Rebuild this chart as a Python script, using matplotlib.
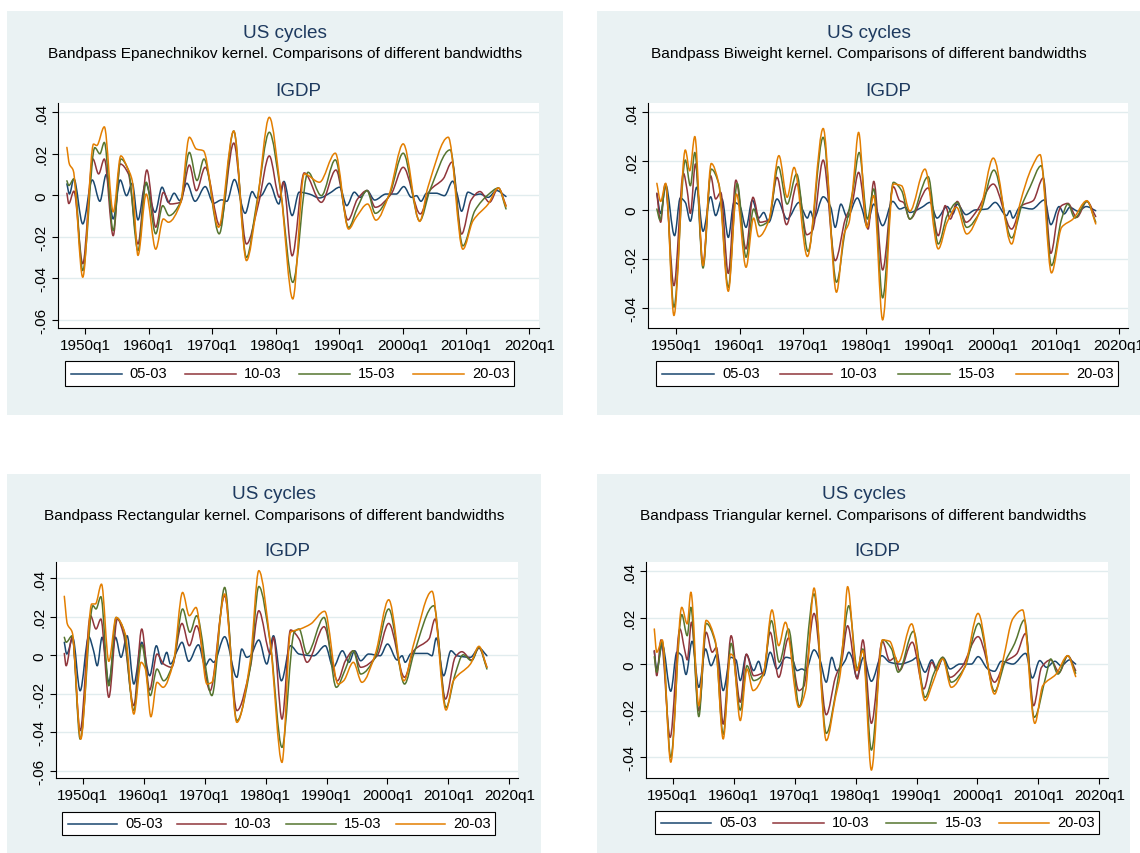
"""Four-panel bandpass kernel comparison of US IGDP cycles (Stata s2color look)."""

import matplotlib

matplotlib.use("Agg")

import matplotlib.pyplot as plt
from matplotlib.lines import Line2D
from matplotlib.patches import PathPatch, Rectangle
from matplotlib.path import Path

# ---------------------------------------------------------------- data
SERIES_LABELS = ["05-03", "10-03", "15-03", "20-03"]
X_TICKS = [1950, 1960, 1970, 1980, 1990, 2000, 2010, 2020]
X_TICK_LABELS = ["1950q1", "1960q1", "1970q1", "1980q1", "1990q1", "2000q1", "2010q1", "2020q1"]
Y_TICKS_WIDE = [-0.06, -0.04, -0.02, 0.0, 0.02, 0.04]
Y_TICK_LABELS_WIDE = ["-.06", "-.04", "-.02", "0", ".02", ".04"]
Y_TICKS_NARROW = [-0.04, -0.02, 0.0, 0.02, 0.04]
Y_TICK_LABELS_NARROW = ["-.04", "-.02", "0", ".02", ".04"]
KERNELS = ["Epanechnikov", "Biweight", "Rectangular", "Triangular"]

# (year, cycle) turning points
EPAN_05 = [(1947.1, 0.0055), (1947.5, 0.0006), (1948.2, 0.0079), (1949.6, -0.0138), (1951.1, 0.0074),
           (1952.3, -0.0029), (1953.3, 0.0100), (1954.4, -0.0114), (1955.5, 0.0074), (1956.5, -0.0002),
           (1957.4, 0.0058), (1958.3, -0.0119), (1959.5, 0.0058), (1961.0, -0.0082), (1962.1, 0.0039),
           (1963.1, -0.0034), (1964.0, 0.0010), (1964.9, -0.0026), (1966.0, 0.0058), (1967.3, -0.0029),
           (1968.9, 0.0042), (1970.2, -0.0039), (1971.5, -0.0022), (1972.3, -0.0029), (1973.5, 0.0076),
           (1975.2, -0.0087), (1976.3, 0.0018), (1977.0, -0.0013), (1977.8, 0.0000), (1979.0, 0.0058),
           (1980.5, -0.0042), (1981.3, 0.0067), (1982.6, -0.0098), (1983.7, 0.0015), (1985.3, 0.0006),
           (1986.9, -0.0013), (1988.5, 0.0010), (1990.1, 0.0039), (1991.2, -0.0050), (1992.4, 0.0015),
           (1993.3, -0.0010), (1994.4, 0.0023), (1995.6, -0.0023), (1997.4, 0.0006), (1999.0, 0.0006),
           (2000.2, 0.0042), (2001.4, -0.0010), (2002.2, -0.0002), (2002.9, -0.0029), (2003.8, 0.0010),
           (2005.3, 0.0010), (2006.6, -0.0002), (2007.9, 0.0068), (2008.6, 0.0006), (2009.3, -0.0077),
           (2010.3, 0.0015), (2011.4, 0.0002), (2012.2, 0.0006), (2013.5, -0.0010), (2014.8, 0.0023),
           (2016.3, -0.0006)]
EPAN_10 = [(1947.1, 0.0010), (1947.4, -0.0040), (1948.2, 0.0020), (1949.6, -0.0330), (1951.2, 0.0175),
           (1952.1, 0.0103), (1953.0, 0.0175), (1954.4, -0.0195), (1955.5, 0.0151), (1956.8, 0.0103),
           (1958.3, -0.0235), (1959.7, 0.0122), (1961.1, -0.0154), (1962.3, 0.0014), (1963.4, -0.0042),
           (1965.0, -0.0034), (1966.4, 0.0146), (1967.5, 0.0022), (1968.9, 0.0135), (1971.2, -0.0146),
           (1973.4, 0.0252), (1975.4, -0.0235), (1977.3, -0.0040), (1979.0, 0.0190), (1980.6, -0.0010),
           (1981.2, 0.0063), (1982.6, -0.0292), (1984.5, 0.0108), (1987.2, -0.0034), (1989.5, 0.0122),
           (1991.4, -0.0119), (1992.9, -0.0018), (1994.4, 0.0023), (1995.7, -0.0058), (1998.2, 0.0006),
           (2000.1, 0.0135), (2002.8, -0.0090), (2004.3, 0.0023), (2006.4, 0.0079), (2007.8, 0.0160),
           (2009.3, -0.0187), (2010.8, -0.0023), (2012.2, 0.0018), (2013.7, -0.0034), (2015.1, 0.0035),
           (2016.3, -0.0050)]
EPAN_15 = [(1947.1, 0.0070), (1947.4, 0.0047), (1948.2, 0.0079), (1949.6, -0.0363), (1951.5, 0.0230),
           (1952.3, 0.0200), (1953.0, 0.0255), (1954.4, -0.0170), (1955.6, 0.0175), (1956.8, 0.0120),
           (1958.3, -0.0267), (1959.6, 0.0063), (1961.1, -0.0186), (1962.2, -0.0050), (1963.2, -0.0098),
           (1965.0, -0.0034), (1966.4, 0.0207), (1967.6, 0.0071), (1968.7, 0.0175), (1971.1, -0.0186),
           (1973.4, 0.0310), (1975.4, -0.0300), (1977.0, -0.0040), (1979.0, 0.0304), (1980.8, 0.0015),
           (1982.7, -0.0420), (1985.1, 0.0111), (1987.2, -0.0002), (1989.4, 0.0171), (1991.5, -0.0155),
           (1992.9, -0.0058), (1994.4, 0.0023), (1995.7, -0.0087), (1997.9, 0.0000), (2000.1, 0.0203),
           (2002.7, -0.0123), (2004.3, 0.0023), (2007.5, 0.0219), (2009.5, -0.0244), (2011.4, -0.0074),
           (2013.5, 0.0003), (2015.1, 0.0035), (2016.3, -0.0066)]
EPAN_20 = [(1947.1, 0.0231), (1947.5, 0.0150), (1948.1, 0.0120), (1949.6, -0.0395), (1951.3, 0.0247),
           (1951.8, 0.0240), (1953.0, 0.0330), (1954.4, -0.0080), (1955.6, 0.0190), (1956.6, 0.0135),
           (1957.4, 0.0070), (1958.3, -0.0290), (1959.6, 0.0006), (1961.1, -0.0260), (1962.3, -0.0114),
           (1963.1, -0.0130), (1965.0, -0.0040), (1966.4, 0.0280), (1967.5, 0.0223), (1968.6, 0.0215),
           (1971.0, -0.0154), (1973.4, 0.0310), (1975.4, -0.0315), (1977.0, -0.0058), (1979.0, 0.0376),
           (1980.8, 0.0022), (1982.7, -0.0500), (1984.5, 0.0103), (1986.9, 0.0063), (1989.4, 0.0203),
           (1991.5, -0.0163), (1992.7, -0.0106), (1994.5, -0.0042), (1995.8, -0.0120), (1997.9, 0.0006),
           (2000.1, 0.0248), (2002.7, -0.0126), (2004.0, 0.0039), (2007.2, 0.0280), (2009.5, -0.0260),
           (2011.1, -0.0123), (2013.5, -0.0042), (2015.1, 0.0035), (2016.3, -0.0055)]

BIW_05 = [(1946.9, 0.0068), (1947.5, -0.0014), (1948.3, 0.0103), (1949.7, -0.0105), (1950.6, 0.0049),
          (1951.4, 0.0031), (1952.2, -0.0046), (1953.2, 0.0093), (1954.2, -0.0087), (1955.4, 0.0054),
          (1956.2, -0.0023), (1957.2, 0.0045), (1958.2, -0.0112), (1959.1, 0.0031), (1960.0, 0.0018),
          (1961.0, -0.0071), (1962.0, 0.0041), (1963.0, -0.0033), (1963.8, -0.0010), (1964.6, -0.0050),
          (1965.9, 0.0045), (1967.5, -0.0037), (1969.4, 0.0031), (1969.9, 0.0004), (1970.7, -0.0033),
          (1971.2, -0.0005), (1971.7, -0.0037), (1973.2, 0.0054), (1974.4, 0.0011), (1975.1, -0.0071),
          (1976.0, 0.0024), (1977.0, -0.0030), (1978.6, 0.0049), (1979.4, 0.0000), (1980.1, -0.0064),
          (1981.2, 0.0024), (1982.6, -0.0064), (1984.2, 0.0035), (1985.3, 0.0004), (1986.2, 0.0011),
          (1986.9, -0.0010), (1988.8, 0.0011), (1990.1, 0.0031), (1991.2, -0.0033), (1992.8, 0.0014),
          (1993.7, -0.0016), (1994.4, 0.0024), (1995.8, -0.0019), (1997.2, 0.0000), (1999.1, 0.0004),
          (2000.4, 0.0031), (2002.2, -0.0023), (2002.7, -0.0003), (2003.2, -0.0033), (2004.3, 0.0011),
          (2006.2, 0.0004), (2008.2, 0.0041), (2009.2, -0.0060), (2010.5, 0.0014), (2011.3, -0.0016),
          (2012.2, 0.0011), (2013.5, -0.0005), (2014.8, 0.0014), (2016.3, -0.0003)]
BIW_10 = [(1946.9, 0.0068), (1947.5, -0.0050), (1948.2, 0.0106), (1949.6, -0.0309), (1951.1, 0.0150),
          (1951.7, 0.0079), (1952.2, -0.0014), (1953.0, 0.0188), (1954.2, -0.0220), (1955.4, 0.0140),
          (1956.2, 0.0045), (1957.0, 0.0072), (1958.2, -0.0259), (1959.4, 0.0122), (1961.0, -0.0159),
          (1962.1, 0.0052), (1963.2, -0.0050), (1964.6, -0.0041), (1965.9, 0.0133), (1967.4, -0.0060),
          (1969.1, 0.0109), (1970.6, -0.0101), (1971.5, -0.0084), (1973.2, 0.0204), (1975.1, -0.0207),
          (1976.7, -0.0037), (1977.8, 0.0030), (1978.8, 0.0154), (1980.3, -0.0078), (1981.2, 0.0117),
          (1982.6, -0.0245), (1984.3, 0.0095), (1985.3, 0.0038), (1985.9, 0.0031), (1986.9, -0.0037),
          (1989.8, 0.0090), (1991.4, -0.0105), (1992.5, 0.0018), (1993.3, -0.0037), (1994.4, 0.0035),
          (1995.8, -0.0050), (1997.5, -0.0003), (2000.1, 0.0106), (2003.0, -0.0078), (2004.6, 0.0018),
          (2006.4, 0.0038), (2008.0, 0.0131), (2009.2, -0.0177), (2010.4, -0.0010), (2010.9, 0.0018),
          (2011.9, 0.0027), (2013.3, -0.0030), (2014.9, 0.0035), (2016.3, -0.0027)]
BIW_15 = [(1946.9, 0.0004), (1947.4, -0.0041), (1948.3, 0.0103), (1949.6, -0.0397), (1951.4, 0.0204),
          (1952.2, 0.0099), (1952.9, 0.0235), (1954.2, -0.0237), (1955.5, 0.0167), (1956.7, 0.0106),
          (1958.2, -0.0316), (1959.6, 0.0109), (1961.0, -0.0193), (1962.2, 0.0004), (1963.2, -0.0064),
          (1964.6, -0.0044), (1966.1, 0.0177), (1967.5, 0.0024), (1969.0, 0.0147), (1970.8, -0.0169),
          (1973.2, 0.0297), (1975.3, -0.0295), (1976.7, -0.0078), (1977.9, 0.0080), (1978.9, 0.0235),
          (1980.2, -0.0037), (1981.2, 0.0086), (1982.6, -0.0359), (1984.3, 0.0113), (1985.6, 0.0079),
          (1986.9, -0.0037), (1989.8, 0.0136), (1991.4, -0.0139), (1992.8, -0.0023), (1994.4, 0.0031),
          (1995.9, -0.0071), (1998.1, -0.0003), (2000.2, 0.0163), (2003.0, -0.0114), (2004.6, 0.0018),
          (2005.9, 0.0093), (2007.7, 0.0181), (2009.3, -0.0227), (2010.9, -0.0037), (2011.9, 0.0024),
          (2013.0, -0.0033), (2014.9, 0.0035), (2016.3, -0.0050)]
BIW_20 = [(1946.9, 0.0109), (1947.5, 0.0035), (1948.3, 0.0109), (1949.6, -0.0431), (1951.4, 0.0245),
          (1952.1, 0.0160), (1952.9, 0.0300), (1954.2, -0.0227), (1955.5, 0.0190), (1956.7, 0.0106),
          (1958.2, -0.0332), (1959.5, 0.0065), (1961.0, -0.0234), (1962.2, -0.0033), (1963.0, -0.0109),
          (1964.6, -0.0044), (1966.2, 0.0222), (1967.5, 0.0052), (1968.6, 0.0174), (1970.7, -0.0190),
          (1973.2, 0.0333), (1975.3, -0.0336), (1976.5, -0.0098), (1977.3, -0.0050), (1978.0, 0.0120),
          (1978.8, 0.0317), (1980.1, -0.0071), (1981.2, 0.0059), (1982.6, -0.0449), (1984.3, 0.0106),
          (1985.6, 0.0099), (1986.9, -0.0005), (1989.3, 0.0167), (1991.4, -0.0159), (1992.8, -0.0050),
          (1994.3, 0.0011), (1995.9, -0.0098), (1998.0, -0.0003), (2000.1, 0.0212), (2003.0, -0.0139),
          (2004.3, 0.0024), (2006.2, 0.0174), (2007.5, 0.0226), (2009.3, -0.0257), (2010.9, -0.0071),
          (2012.7, -0.0037), (2014.9, 0.0038), (2016.3, -0.0057)]

RECT_05 = [(1947.0, 0.0068), (1947.4, 0.0007), (1948.4, 0.0090), (1949.6, -0.0184), (1951.0, 0.0097),
           (1951.8, 0.0024), (1952.4, -0.0054), (1953.2, 0.0094), (1954.3, -0.0140), (1955.4, 0.0094),
           (1956.3, -0.0010), (1957.3, 0.0102), (1958.4, -0.0149), (1959.7, 0.0068), (1961.0, -0.0106),
           (1962.1, 0.0050), (1963.0, -0.0045), (1963.8, 0.0016), (1964.4, -0.0045), (1965.5, 0.0024),
           (1966.3, 0.0068), (1967.4, -0.0031), (1969.0, 0.0055), (1970.1, -0.0054), (1970.9, -0.0019),
           (1971.5, -0.0036), (1973.3, 0.0097), (1975.3, -0.0114), (1976.1, 0.0033), (1976.9, -0.0010),
           (1977.5, -0.0002), (1978.9, 0.0080), (1980.2, -0.0045), (1981.3, 0.0102), (1982.6, -0.0132),
           (1984.1, 0.0050), (1985.5, 0.0007), (1987.9, -0.0002), (1989.8, 0.0050), (1991.1, -0.0062),
           (1992.6, 0.0024), (1993.7, -0.0036), (1994.6, 0.0024), (1995.6, -0.0028), (1996.9, 0.0007),
           (1998.8, -0.0002), (2000.0, 0.0059), (2001.6, -0.0024), (2002.4, -0.0002), (2002.9, -0.0036),
           (2003.9, 0.0010), (2006.5, 0.0010), (2007.3, -0.0002), (2008.0, 0.0090), (2009.2, -0.0106),
           (2010.4, 0.0024), (2011.4, -0.0002), (2013.6, -0.0010), (2015.0, 0.0038), (2016.3, -0.0002)]
RECT_10 = [(1947.0, 0.0010), (1947.3, -0.0054), (1948.3, 0.0094), (1949.6, -0.0391), (1951.3, 0.0206),
           (1952.2, 0.0137), (1953.0, 0.0189), (1954.3, -0.0218), (1955.7, 0.0189), (1956.7, 0.0111),
           (1958.4, -0.0261), (1959.7, 0.0137), (1961.0, -0.0180), (1962.2, 0.0007), (1963.3, -0.0045),
           (1964.6, -0.0062), (1966.3, 0.0166), (1967.5, 0.0050), (1968.7, 0.0154), (1970.9, -0.0184),
           (1973.3, 0.0310), (1975.3, -0.0287), (1977.5, -0.0062), (1978.9, 0.0232), (1980.8, 0.0007),
           (1981.3, 0.0094), (1982.7, -0.0331), (1984.1, 0.0132), (1985.5, 0.0085), (1986.8, -0.0036),
           (1989.6, 0.0149), (1991.8, -0.0132), (1993.1, -0.0028), (1994.4, 0.0024), (1995.6, -0.0062),
           (1998.3, -0.0002), (2000.2, 0.0166), (2002.8, -0.0114), (2004.3, 0.0024), (2006.8, 0.0085),
           (2007.8, 0.0189), (2009.5, -0.0227), (2011.1, -0.0010), (2012.2, 0.0019), (2013.8, -0.0024),
           (2015.0, 0.0038), (2016.3, -0.0062)]
RECT_15 = [(1947.0, 0.0094), (1947.3, 0.0068), (1948.3, 0.0102), (1949.6, -0.0435), (1951.7, 0.0258),
           (1952.2, 0.0241), (1953.0, 0.0305), (1954.3, -0.0158), (1955.5, 0.0197), (1956.7, 0.0137),
           (1958.4, -0.0287), (1959.7, 0.0055), (1961.1, -0.0209), (1962.2, -0.0071), (1963.3, -0.0132),
           (1964.9, -0.0036), (1966.4, 0.0241), (1967.6, 0.0120), (1968.7, 0.0206), (1971.2, -0.0209),
           (1973.3, 0.0353), (1975.3, -0.0339), (1977.5, -0.0062), (1978.9, 0.0358), (1980.8, 0.0059),
           (1982.7, -0.0478), (1984.7, 0.0120), (1985.5, 0.0137), (1986.8, 0.0007), (1989.6, 0.0197),
           (1991.6, -0.0166), (1993.1, -0.0071), (1994.4, 0.0024), (1995.6, -0.0097), (1998.0, -0.0010),
           (2000.2, 0.0241), (2002.8, -0.0149), (2004.3, 0.0007), (2007.6, 0.0258), (2009.6, -0.0270),
           (2011.1, -0.0097), (2012.4, 0.0003), (2013.8, -0.0028), (2015.0, 0.0042), (2016.3, -0.0071)]
RECT_20 = [(1947.0, 0.0307), (1947.5, 0.0163), (1948.3, 0.0120), (1949.7, -0.0435), (1951.5, 0.0267),
           (1952.1, 0.0267), (1953.1, 0.0370), (1954.3, -0.0031), (1955.5, 0.0197), (1957.0, 0.0111),
           (1958.4, -0.0305), (1959.6, -0.0036), (1960.3, -0.0071), (1961.2, -0.0319), (1962.2, -0.0140),
           (1963.2, -0.0166), (1964.9, -0.0036), (1966.4, 0.0327), (1967.5, 0.0206), (1968.6, 0.0249),
           (1970.4, -0.0149), (1971.2, -0.0140), (1973.3, 0.0319), (1975.3, -0.0348), (1977.5, -0.0028),
           (1978.9, 0.0440), (1980.8, 0.0059), (1982.7, -0.0556), (1984.1, 0.0120), (1985.7, 0.0137),
           (1987.4, 0.0163), (1989.7, 0.0229), (1991.9, -0.0149), (1992.8, -0.0132), (1994.4, -0.0036),
           (1995.8, -0.0140), (1998.0, 0.0007), (2000.2, 0.0289), (2002.7, -0.0132), (2004.3, 0.0059),
           (2007.3, 0.0333), (2009.6, -0.0284), (2010.8, -0.0132), (2013.6, -0.0045), (2015.0, 0.0047),
           (2016.3, -0.0062)]

TRI_05 = [(1947.0, 0.0056), (1947.4, -0.0020), (1948.3, 0.0085), (1949.7, -0.0116), (1950.7, 0.0052),
          (1951.5, 0.0037), (1952.2, -0.0044), (1953.2, 0.0099), (1954.3, -0.0099), (1955.4, 0.0066),
          (1956.3, -0.0006), (1957.3, 0.0044), (1958.3, -0.0113), (1959.5, 0.0030), (1960.4, 0.0019),
          (1961.1, -0.0070), (1962.1, 0.0042), (1963.3, -0.0027), (1964.1, 0.0013), (1964.9, -0.0049),
          (1966.0, 0.0052), (1967.1, -0.0020), (1968.6, 0.0030), (1969.6, 0.0023), (1970.4, -0.0027),
          (1971.2, -0.0020), (1971.8, -0.0027), (1973.2, 0.0062), (1974.2, 0.0016), (1975.2, -0.0077),
          (1976.1, 0.0030), (1976.9, -0.0027), (1978.3, 0.0016), (1978.9, 0.0052), (1979.4, 0.0030),
          (1980.2, -0.0056), (1981.3, 0.0030), (1982.6, -0.0073), (1984.3, 0.0037), (1985.6, 0.0009),
          (1987.3, 0.0001), (1989.2, 0.0016), (1990.1, 0.0030), (1991.4, -0.0034), (1992.5, 0.0019),
          (1993.3, -0.0020), (1994.4, 0.0027), (1995.5, -0.0020), (1997.1, 0.0001), (1999.0, 0.0001),
          (2000.1, 0.0033), (2001.7, -0.0020), (2002.8, -0.0030), (2003.9, 0.0013), (2005.8, 0.0001),
          (2007.9, 0.0047), (2009.0, -0.0059), (2010.2, 0.0016), (2011.3, -0.0013), (2012.7, 0.0013),
          (2013.7, -0.0006), (2015.1, 0.0019), (2016.1, 0.0001)]
TRI_10 = [(1947.0, 0.0059), (1947.4, -0.0049), (1948.1, 0.0105), (1949.6, -0.0314), (1951.2, 0.0152),
          (1952.0, 0.0059), (1952.4, 0.0019), (1953.1, 0.0181), (1954.3, -0.0200), (1955.5, 0.0138),
          (1956.5, 0.0052), (1957.2, 0.0073), (1958.3, -0.0257), (1959.6, 0.0123), (1961.1, -0.0163),
          (1962.1, 0.0044), (1963.3, -0.0049), (1964.9, -0.0034), (1966.0, 0.0138), (1967.4, -0.0056),
          (1969.0, 0.0113), (1970.7, -0.0113), (1971.5, -0.0096), (1973.2, 0.0219), (1975.2, -0.0217),
          (1976.7, -0.0056), (1977.7, 0.0010), (1978.7, 0.0166), (1980.3, -0.0063), (1981.2, 0.0105),
          (1982.6, -0.0254), (1984.4, 0.0099), (1985.6, 0.0016), (1986.5, 0.0030), (1987.2, -0.0027),
          (1989.3, 0.0095), (1991.2, -0.0106), (1992.5, 0.0009), (1993.3, -0.0027), (1994.3, 0.0030),
          (1995.5, -0.0056), (1997.4, -0.0013), (2000.1, 0.0119), (2002.8, -0.0077), (2004.5, 0.0009),
          (2006.4, 0.0044), (2007.9, 0.0133), (2009.2, -0.0178), (2010.5, -0.0013), (2012.0, 0.0019),
          (2013.4, -0.0034), (2014.8, 0.0037), (2016.1, -0.0027)]
TRI_15 = [(1947.0, 0.0033), (1947.4, -0.0034), (1948.3, 0.0099), (1949.7, -0.0400), (1951.5, 0.0214),
          (1952.4, 0.0123), (1953.0, 0.0245), (1954.3, -0.0225), (1955.5, 0.0176), (1957.0, 0.0095),
          (1958.3, -0.0301), (1959.6, 0.0090), (1961.1, -0.0197), (1962.2, -0.0006), (1963.3, -0.0070),
          (1964.9, -0.0042), (1966.2, 0.0188), (1967.5, 0.0009), (1969.0, 0.0152), (1970.8, -0.0182),
          (1973.2, 0.0303), (1975.2, -0.0297), (1976.9, -0.0099), (1977.8, 0.0060), (1978.9, 0.0252),
          (1980.3, -0.0020), (1981.2, 0.0066), (1982.6, -0.0369), (1984.5, 0.0105), (1985.9, 0.0066),
          (1987.0, -0.0034), (1989.5, 0.0142), (1991.4, -0.0142), (1992.8, -0.0042), (1994.3, 0.0030),
          (1995.7, -0.0077), (1997.9, -0.0013), (2000.2, 0.0176), (2002.8, -0.0116), (2004.5, 0.0009),
          (2006.1, 0.0090), (2007.7, 0.0191), (2009.3, -0.0228), (2011.3, -0.0042), (2012.0, 0.0023),
          (2013.2, -0.0042), (2014.8, 0.0037), (2016.1, -0.0039)]
TRI_20 = [(1947.0, 0.0152), (1947.4, 0.0052), (1948.3, 0.0105), (1949.7, -0.0421), (1951.5, 0.0245),
          (1952.4, 0.0174), (1953.0, 0.0310), (1954.3, -0.0178), (1955.5, 0.0189), (1957.0, 0.0102),
          (1958.3, -0.0321), (1959.5, 0.0044), (1959.9, 0.0037), (1961.1, -0.0242), (1962.2, -0.0020),
          (1963.2, -0.0113), (1964.9, -0.0042), (1966.3, 0.0234), (1967.4, 0.0080), (1968.5, 0.0181),
          (1970.7, -0.0185), (1971.8, -0.0113), (1973.2, 0.0328), (1975.2, -0.0328), (1976.7, -0.0142),
          (1977.5, -0.0040), (1978.1, 0.0150), (1978.7, 0.0334), (1980.2, -0.0027), (1981.2, 0.0059),
          (1982.6, -0.0455), (1984.4, 0.0105), (1985.6, 0.0099), (1987.0, 0.0009), (1989.2, 0.0174),
          (1991.4, -0.0156), (1992.7, -0.0077), (1994.3, 0.0023), (1995.7, -0.0099), (1997.9, -0.0013),
          (2000.1, 0.0219), (2002.8, -0.0128), (2004.2, 0.0019), (2005.8, 0.0196), (2007.4, 0.0234),
          (2009.4, -0.0254), (2010.7, -0.0092), (2012.9, -0.0042), (2014.8, 0.0037), (2016.1, -0.0053)]

# ---------------------------------------------------------------- style
COLORS = ["#1A476F", "#90353B", "#55752F", "#E37E00"]
BG = "#EAF2F3"
GRID = "#E1ECEE"
TITLE_COLOR = "#1E3A5F"
FONT = "Liberation Sans"

W, H = 1140, 854

plt.rcParams["font.family"] = [FONT, "DejaVu Sans"]


def fx(x):
    return x / W


def fy(y):
    return 1 - y / H


def smooth_path(pts):
    """Bezier path through the read points, flat at turning points (no new data points)."""
    xs = [t for t, _ in pts]
    ys = [v for _, v in pts]
    n = len(xs)
    d = [(ys[i + 1] - ys[i]) / (xs[i + 1] - xs[i]) for i in range(n - 1)]
    m = [d[0]] + [0.0] * (n - 2) + [d[-1]]
    for i in range(1, n - 1):
        if d[i - 1] * d[i] > 0:
            m[i] = 2.0 / (1.0 / d[i - 1] + 1.0 / d[i])
    verts = [(xs[0], ys[0])]
    codes = [Path.MOVETO]
    for i in range(n - 1):
        h = xs[i + 1] - xs[i]
        verts += [(xs[i] + h / 3, ys[i] + m[i] * h / 3),
                  (xs[i + 1] - h / 3, ys[i + 1] - m[i + 1] * h / 3),
                  (xs[i + 1], ys[i + 1])]
        codes += [Path.CURVE4] * 3
    return Path(verts, codes)


# pixel geometry per panel: background, plot box, text rows, legend box
PANELS = [
    dict(series=[EPAN_05, EPAN_10, EPAN_15, EPAN_20], bg=(7, 12, 563, 416), plot=(58, 104, 539, 329),
         xlim=(1945.7, 2021.5), ylim=(-0.0640, 0.0445), yt=(Y_TICKS_WIDE, Y_TICK_LABELS_WIDE),
         rows=(33, 54, 92), legend=(65, 362, 514, 387)),
    dict(series=[BIW_05, BIW_10, BIW_15, BIW_20], bg=(597, 12, 1140, 416), plot=(648, 104, 1128, 329),
         xlim=(1945.5, 2021.4), ylim=(-0.0482, 0.0437), yt=(Y_TICKS_NARROW, Y_TICK_LABELS_NARROW),
         rows=(33, 54, 92), legend=(656, 362, 1118, 387)),
    dict(series=[RECT_05, RECT_10, RECT_15, RECT_20], bg=(7, 475, 541, 854), plot=(56, 563, 518, 779),
         xlim=(1945.64, 2021.4), ylim=(-0.0637, 0.0485), yt=(Y_TICKS_WIDE, Y_TICK_LABELS_WIDE),
         rows=(495, 516, 551), legend=(62, 813, 495, 836)),
    dict(series=[TRI_05, TRI_10, TRI_15, TRI_20], bg=(597, 475, 1130, 854), plot=(646, 563, 1108, 779),
         xlim=(1945.64, 2021.4), ylim=(-0.0489, 0.0440), yt=(Y_TICKS_NARROW, Y_TICK_LABELS_NARROW),
         rows=(495, 516, 551), legend=(655, 812, 1099, 835)),
]

fig = plt.figure(figsize=(W / 100, H / 100), dpi=100)
fig.patch.set_facecolor("white")

for kernel, p in zip(KERNELS, PANELS):
    bx0, by0, bx1, by1 = p["bg"]
    fig.patches.append(Rectangle((fx(bx0), fy(by1)), fx(bx1 - bx0), (by1 - by0) / H,
                                 transform=fig.transFigure, facecolor=BG, edgecolor="none", zorder=-5))

    px0, py0, px1, py1 = p["plot"]
    ax = fig.add_axes([fx(px0), fy(py1), fx(px1 - px0), (py1 - py0) / H])
    ax.set_facecolor("white")
    for pts, color in zip(p["series"], COLORS):
        ax.add_patch(PathPatch(smooth_path(pts), fill=False, edgecolor=color, lw=1.1,
                               joinstyle="round", capstyle="round"))
    ax.set_xlim(*p["xlim"])
    ax.set_ylim(*p["ylim"])
    ax.set_xticks(X_TICKS)
    ax.set_xticklabels(X_TICK_LABELS, fontsize=11)
    ax.set_yticks(p["yt"][0])
    ax.set_yticklabels(p["yt"][1], fontsize=11, rotation=90, va="center")
    ax.grid(axis="y", color=GRID, lw=1.0)
    ax.set_axisbelow(True)
    for side in ("top", "right"):
        ax.spines[side].set_visible(False)
    for side in ("left", "bottom"):
        ax.spines[side].set_linewidth(0.8)
    ax.tick_params(length=4, width=0.8, pad=3)

    cx_panel = fx((bx0 + bx1) / 2)
    cx_plot = fx((px0 + px1) / 2)
    r1, r2, r3 = p["rows"]
    fig.text(cx_panel, fy(r1), "US cycles", ha="center", va="center", fontsize=13.6, color=TITLE_COLOR)
    fig.text(cx_panel, fy(r2), f"Bandpass {kernel} kernel. Comparisons of different bandwidths",
             ha="center", va="center", fontsize=11.1, color="black")
    fig.text(cx_plot, fy(r3), "IGDP", ha="center", va="center", fontsize=13.6, color=TITLE_COLOR)

    # legend box drawn by hand to match Stata's evenly spaced keys
    lx0, ly0, lx1, ly1 = p["legend"]
    lw_box = lx1 - lx0
    fig.patches.append(Rectangle((fx(lx0), fy(ly1)), fx(lw_box), (ly1 - ly0) / H,
                                 transform=fig.transFigure, facecolor="white", edgecolor="black",
                                 lw=0.8, zorder=2))
    key_len = 51 * lw_box / 449
    pitch = (lw_box - 13.7 - key_len - 42) / 3
    ly = fy((ly0 + ly1) / 2)
    for i, (label, color) in enumerate(zip(SERIES_LABELS, COLORS)):
        k0 = lx0 + 5.7 + i * pitch
        fig.add_artist(Line2D([fx(k0), fx(k0 + key_len)], [ly, ly], transform=fig.transFigure,
                              color=color, lw=1.1, zorder=3))
        fig.text(fx(k0 + key_len + 8), ly, label, ha="left", va="center", fontsize=10.5,
                 color="black", zorder=3)

fig.savefig("out.png", dpi=100, facecolor="white")
